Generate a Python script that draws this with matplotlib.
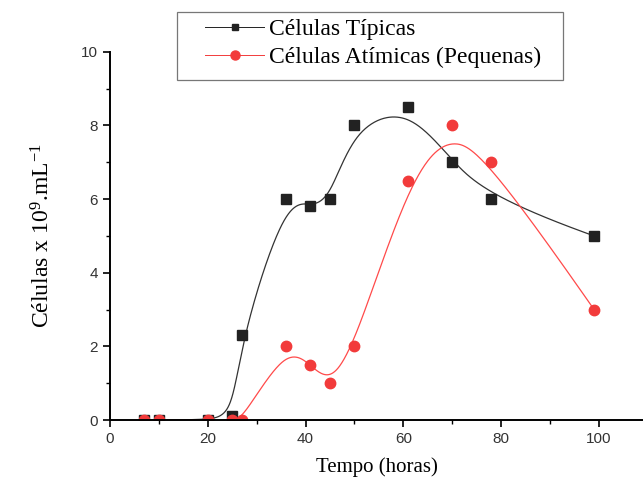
import matplotlib
matplotlib.use('Agg')
import matplotlib.pyplot as plt
from matplotlib.ticker import MultipleLocator
from matplotlib.patches import Rectangle
import numpy as np

tempo = [7, 10, 20, 25, 27, 36, 41, 45, 50, 61, 70, 78, 99]
tipicas = [0, 0, 0, 0.1, 2.3, 6.0, 5.8, 6.0, 8.0, 8.5, 7.0, 6.0, 5.0]
atipicas = [0, 0, 0, 0, 0, 2.0, 1.5, 1.0, 2.0, 6.5, 8.0, 7.0, 3.0]

serif = 'Liberation Serif'
sans = 'Liberation Sans'
plt.rcParams['mathtext.fontset'] = 'custom'
plt.rcParams['mathtext.rm'] = serif
plt.rcParams['mathtext.it'] = serif + ':italic'


def bspline(px, py, k=3, num=600):
	# clamped B-spline, data points used as control points (like Origin)
	P = np.column_stack([px, py]).astype(float)
	n = len(P)
	inner = np.arange(1, n - k)
	knots = np.concatenate([np.zeros(k + 1), inner, np.full(k + 1, n - k)])
	t = np.linspace(0, n - k, num)
	t[-1] -= 1e-9
	N = np.zeros((num, len(knots) - 1))
	for i in range(len(knots) - 1):
		N[:, i] = (knots[i] <= t) & (t < knots[i + 1])
	for d in range(1, k + 1):
		Nn = np.zeros((num, len(knots) - 1 - d))
		for i in range(len(knots) - 1 - d):
			a = knots[i + d] - knots[i]
			b = knots[i + d + 1] - knots[i + 1]
			left = (t - knots[i]) / a * N[:, i] if a > 0 else 0
			right = (knots[i + d + 1] - t) / b * N[:, i + 1] if b > 0 else 0
			Nn[:, i] = left + right
		N = Nn
	C = N @ P
	return C[:, 0], C[:, 1]


fig = plt.figure(figsize=(6.43, 4.8), dpi=100)
ax = fig.add_axes([0.171, 0.125, 0.829, 0.767])

xs, ys = bspline(tempo, tipicas)
ax.plot(xs, ys, color='#333333', lw=0.9)
xs, ys = bspline(tempo, atipicas)
ax.plot(xs, ys, color='#ff4a4a', lw=0.9)

ax.plot(tempo, tipicas, 's', color='#222222', ms=7)
ax.plot(tempo, atipicas, 'o', color='#f23b3b', ms=7.5)

# legend
h1, = ax.plot([], [], '-s', color='#222222', lw=0.7, ms=5, label='Células Típicas')
h2, = ax.plot([], [], '-o', color='#f23b3b', lw=0.7, ms=6.5, label='Células Atímicas (Pequenas)')
leg = fig.legend(handles=[h1, h2], loc='upper left', bbox_to_anchor=(0.319, 0.962),
	prop={'family': serif, 'size': 17}, frameon=False,
	handlelength=2.5, borderpad=0, labelspacing=0.3, borderaxespad=0,
	handletextpad=0.2)
fig.patches.append(Rectangle((177 / 643, 1 - 80 / 480), (563 - 177) / 643, 68 / 480,
	transform=fig.transFigure, fill=False, ec='#777777', lw=0.9))

ax.set_xlim(0, 109)
ax.set_ylim(0, 10)
ax.xaxis.set_major_locator(MultipleLocator(20))
ax.xaxis.set_minor_locator(MultipleLocator(10))
ax.yaxis.set_major_locator(MultipleLocator(2))
ax.yaxis.set_minor_locator(MultipleLocator(1))
ax.tick_params(which='major', direction='out', length=5, width=1.2, labelsize=11)
ax.tick_params(which='minor', direction='out', length=3, width=1.0)
for lab in ax.get_xticklabels() + ax.get_yticklabels():
	lab.set_fontfamily(sans)
	lab.set_color('#333333')

ax.spines['top'].set_visible(False)
ax.spines['right'].set_visible(False)
ax.spines['left'].set_linewidth(1.4)
ax.spines['bottom'].set_linewidth(1.4)

ax.set_xlabel('Tempo (horas)', fontfamily=serif, fontsize=15, labelpad=8)
ax.set_ylabel('Células x 10$^{9}$.mL$^{-1}$', fontfamily=serif, fontsize=17, labelpad=19)

fig.savefig('out.png', dpi=100)
